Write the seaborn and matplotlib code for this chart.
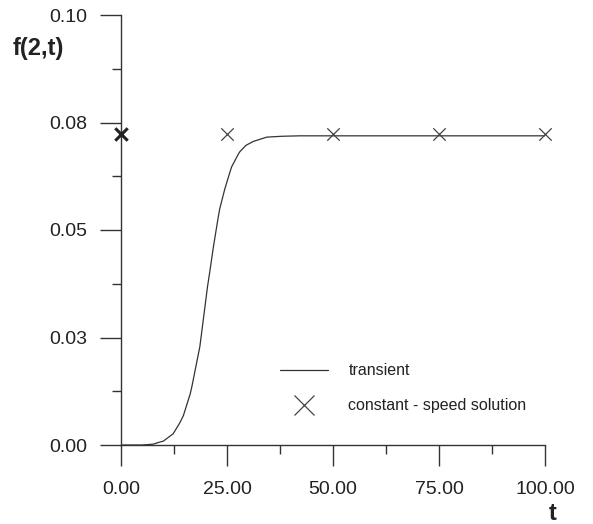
import matplotlib
matplotlib.use("Agg")
import matplotlib.pyplot as plt
import seaborn as sns
import pandas as pd
from matplotlib.lines import Line2D

# transient curve f(2,t)
t_transient = [0, 5, 7.6, 9.2, 10, 11.6, 12.3, 13.9, 14.7, 16.3, 16.7, 18.6,
               20.4, 21.0, 21.8, 22.9, 23.3, 24.5, 25.7, 26.1, 27.7, 28.1,
               29.5, 31.2, 34.4, 38, 42.2, 50, 100]
f_transient = [0.0, 0.0, 0.0002, 0.0007, 0.0009, 0.0021, 0.0026, 0.0052, 0.0068,
               0.0118, 0.0135, 0.0229, 0.0368, 0.0407, 0.0461, 0.0528, 0.0550,
               0.0596, 0.0635, 0.0647, 0.0677, 0.0683, 0.0697, 0.0706, 0.0716,
               0.0718, 0.0719, 0.0719, 0.0719]

# constant-speed solution
t_const = [0, 25, 50, 75, 100]
f_const = [0.0723, 0.0723, 0.0723, 0.0723, 0.0723]

x_ticks = [0, 25, 50, 75, 100]
x_labels = ["0.00", "25.00", "50.00", "75.00", "100.00"]
y_ticks = [0.0, 0.025, 0.05, 0.075, 0.10]
y_labels = ["0.00", "0.03", "0.05", "0.08", "0.10"]

sns.set_theme(style="ticks")
plt.rcParams['font.family'] = ['Liberation Sans', 'DejaVu Sans']

fig = plt.figure(figsize=(5.93, 5.24), dpi=100)
ax = fig.add_axes([121/593, 1-445/524, (545-121)/593, (445-15)/524])

df_tr = pd.DataFrame({"t": t_transient, "f": f_transient})
df_c = pd.DataFrame({"t": t_const, "f": f_const})

sns.lineplot(data=df_tr, x="t", y="f", ax=ax, color="#333333", linewidth=0.9,
             sort=True)
sns.scatterplot(data=df_c.iloc[1:], x="t", y="f", ax=ax, marker="x", s=80,
                color="#444444", linewidth=0.9, clip_on=False, zorder=5)
sns.scatterplot(data=df_c.iloc[:1], x="t", y="f", ax=ax, marker="x", s=80,
                color="#222222", linewidth=2.2, clip_on=False, zorder=5)

ax.set_xlim(0, 100)
ax.set_ylim(0, 0.1)
ax.set_xticks(x_ticks)
ax.set_xticklabels(x_labels)
ax.set_yticks(y_ticks)
ax.set_yticklabels(y_labels)
ax.set_xticks([12.5, 37.5, 62.5, 87.5], minor=True)
ax.set_yticks([0.0125, 0.0375, 0.0625, 0.0875], minor=True)
ax.tick_params(axis="both", which="major", length=15, width=1.0, direction="out",
               labelsize=14, color="#333333", labelcolor="#222222")
ax.tick_params(axis="y", which="major", pad=9)
ax.tick_params(axis="x", which="major", pad=11)
ax.tick_params(axis="both", which="minor", length=6.5, width=1.0, direction="out",
               color="#333333")
ax.set_xlabel("")
ax.set_ylabel("")
for s in ["top", "right"]:
    ax.spines[s].set_visible(False)
for s in ["left", "bottom"]:
    ax.spines[s].set_linewidth(1.0)
    ax.spines[s].set_color("#333333")

fig.text(38/593, 1-48/524, "f(2,t)", fontsize=17, fontweight="bold",
         ha="center", va="center", color="#222222")
fig.text(553/593, 1-514/524, "t", fontsize=17, fontweight="bold",
         ha="center", va="center", color="#222222")

handles = [Line2D([], [], color="#333333", linewidth=0.9),
           Line2D([], [], color="#444444", marker="x", linestyle="none",
                  markersize=14, markeredgewidth=0.9)]
leg = ax.legend(handles, ["transient", "constant - speed solution"],
                loc="upper left", bbox_to_anchor=(266/593, 1-349/524),
                bbox_transform=fig.transFigure, frameon=False, fontsize=11.5,
                handlelength=3.0, handletextpad=1.25, labelspacing=1.25)
for txt in leg.get_texts():
    txt.set_color("#222222")

fig.savefig("out.png", dpi=100, facecolor="white")
